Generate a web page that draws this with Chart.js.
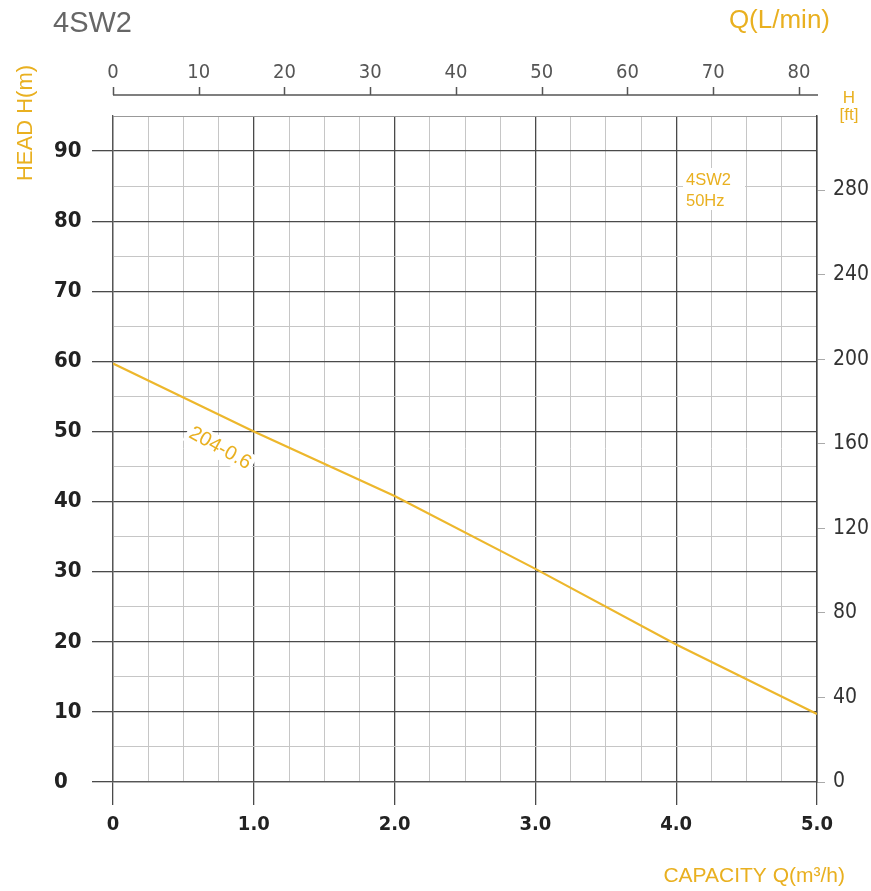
<!DOCTYPE html>
<html>
<head>
<meta charset="utf-8">
<script src="https://cdn.jsdelivr.net/npm/chart.js"></script>
<style>
  html, body { margin: 0; padding: 0; background: #fff; }
  canvas { display: block; }
</style>
</head>
<body>
<canvas id="chart1" width="871" height="891"></canvas>
<script>
  // curve 204-0.6
  var capacity = [0, 1.0, 2.0, 3.0, 4.0, 5.0];        // Q m3/h
  var head = [59.7, 50.0, 40.8, 30.4, 19.6, 9.7];     // H m

  var capacityTicks = [0, 1, 2, 3, 4, 5];
  var capacityLabels = ['0', '1.0', '2.0', '3.0', '4.0', '5.0'];
  var headTicks = [0, 10, 20, 30, 40, 50, 60, 70, 80, 90];
  var feetTicks = [0, 40, 80, 120, 160, 200, 240, 280];
  var litreTicks = [0, 10, 20, 30, 40, 50, 60, 70, 80];

  var yellow = '#E9B020';
  var narrow = "'Liberation Sans Narrow', 'DejaVu Sans Condensed', 'Liberation Sans', sans-serif";
  var sans = "'Liberation Sans', Arial, sans-serif";

  var points = capacity.map(function (q, i) { return { x: q, y: head[i] }; });

  var extras = {
    id: 'extras',
    beforeDatasetsDraw: function (chart) {
      var c = chart.ctx;
      var x = chart.scales.x, y = chart.scales.y, x2 = chart.scales.x2;
      var area = chart.chartArea;
      c.save();

      // top L/min axis line with its ticks
      var ay = area.top - 21;
      c.strokeStyle = '#555';
      c.lineWidth = 1.5;
      c.beginPath();
      c.moveTo(area.left, ay);
      c.lineTo(area.right + 1, ay);
      litreTicks.forEach(function (v) {
        var px = Math.round(x2.getPixelForValue(v)) + 0.5;
        c.moveTo(px, ay);
        c.lineTo(px, ay - 8);
      });
      c.stroke();

      // curve name along the line
      c.translate(x.getPixelForValue(0.76), y.getPixelForValue(47.6));
      c.rotate(29 * Math.PI / 180);
      c.font = '20px ' + sans;
      c.textAlign = 'center';
      c.textBaseline = 'middle';
      var w = c.measureText('204-0.6').width;
      c.fillStyle = '#fff';
      c.fillRect(-w / 2 - 3, -11, w + 6, 22);
      c.fillStyle = yellow;
      c.fillText('204-0.6', 0, 0);
      c.setTransform(1, 0, 0, 1, 0, 0);

      // model box
      c.fillStyle = '#fff';
      c.fillRect(683, 168, 62, 42);
      c.fillStyle = yellow;
      c.font = '16.5px ' + sans;
      c.textAlign = 'left';
      c.textBaseline = 'alphabetic';
      c.fillText('4SW2', 686, 185);
      c.fillText('50Hz', 686, 206);
      c.restore();
    },
    afterDraw: function (chart) {
      var c = chart.ctx;
      c.save();
      c.textBaseline = 'alphabetic';

      c.fillStyle = '#666';
      c.font = '29px ' + sans;
      c.textAlign = 'left';
      c.fillText('4SW2', 53, 32);

      c.fillStyle = yellow;
      c.font = '26px ' + sans;
      c.textAlign = 'right';
      c.fillText('Q(L/min)', 830, 28);

      c.font = '21px ' + sans;
      c.fillText('CAPACITY Q(m\u00B3/h)', 845, 882);

      c.font = '17px ' + sans;
      c.textAlign = 'center';
      c.fillText('H', 849, 103);
      c.fillText('[ft]', 849, 120);

      c.translate(32, 123);
      c.rotate(-Math.PI / 2);
      c.font = '22px ' + sans;
      c.fillText('HEAD H(m)', 0, 0);
      c.restore();
    }
  };

  var ctx1 = document.getElementById('chart1').getContext('2d');
  var chart1 = new Chart(ctx1, {
    type: 'line',
    data: {
      datasets: [{
        label: '204-0.6',
        data: points,
        borderColor: '#EDB72C',
        borderWidth: 2.2,
        pointRadius: 0,
        fill: false,
        tension: 0,
        xAxisID: 'x',
        yAxisID: 'y'
      }]
    },
    options: {
      responsive: false,
      animation: false,
      layout: { padding: { left: 54, right: 0, top: 0, bottom: 0 } },
      plugins: {
        legend: { display: false },
        tooltip: { enabled: false }
      },
      scales: {
        x: {
          type: 'linear',
          position: 'bottom',
          min: 0,
          max: 5,
          afterFit: function (s) { s.height = 109; },
          border: { display: true, color: '#555', width: 1.3 },
          grid: {
            color: function (c) { return c.tick.value % 1 === 0 ? '#4a4a4a' : '#c6c6c6'; },
            lineWidth: function (c) { return c.tick.value % 1 === 0 ? 1.3 : 1; },
            tickColor: function (c) { return c.tick.value % 1 === 0 ? '#4a4a4a' : 'rgba(0,0,0,0)'; },
            tickLength: 23
          },
          ticks: {
            stepSize: 0.25,
            autoSkip: false,
            maxRotation: 0,
            padding: 8,
            color: '#222',
            font: { family: narrow, size: 20, weight: 'bold' },
            callback: function (v) {
              var i = capacityTicks.indexOf(v);
              return i >= 0 ? capacityLabels[i] : '';
            }
          }
        },
        x2: {
          type: 'linear',
          position: 'top',
          min: 0,
          max: 82.1,
          afterFit: function (s) { s.height = 116; },
          afterBuildTicks: function (s) { s.ticks = litreTicks.map(function (v) { return { value: v }; }); },
          border: { display: false },
          grid: { display: false, drawTicks: false },
          ticks: {
            autoSkip: false,
            maxRotation: 0,
            padding: 31,
            color: '#555',
            font: { family: narrow, size: 20 }
          }
        },
        y: {
          type: 'linear',
          position: 'left',
          min: 0,
          max: 95,
          afterFit: function (s) { s.width = 59; },
          border: { display: true, color: '#555', width: 1.3 },
          grid: {
            color: function (c) {
              if (c.tick.value % 10 === 0) return '#4a4a4a';
              return c.tick.value === 95 ? '#999' : '#c6c6c6';
            },
            lineWidth: function (c) { return c.tick.value % 10 === 0 ? 1.3 : 1; },
            tickColor: function (c) { return c.tick.value % 10 === 0 ? '#4a4a4a' : 'rgba(0,0,0,0)'; },
            tickLength: 21
          },
          ticks: {
            stepSize: 5,
            autoSkip: false,
            crossAlign: 'far',
            color: '#222',
            font: { family: narrow, size: 22, weight: 'bold' },
            callback: function (v) { return headTicks.indexOf(v) >= 0 ? String(v) : ''; }
          }
        },
        y2: {
          type: 'linear',
          position: 'right',
          min: 0,
          max: 315,
          afterFit: function (s) { s.width = 54; },
          afterBuildTicks: function (s) { s.ticks = feetTicks.map(function (v) { return { value: v }; }); },
          border: { display: true, color: '#444', width: 1.5 },
          grid: { drawOnChartArea: false, tickLength: 8, tickColor: '#aaa' },
          ticks: {
            autoSkip: false,
            padding: 8,
            color: '#333',
            font: { family: narrow, size: 21 }
          }
        }
      }
    },
    plugins: [extras]
  });
</script>
</body>
</html>
